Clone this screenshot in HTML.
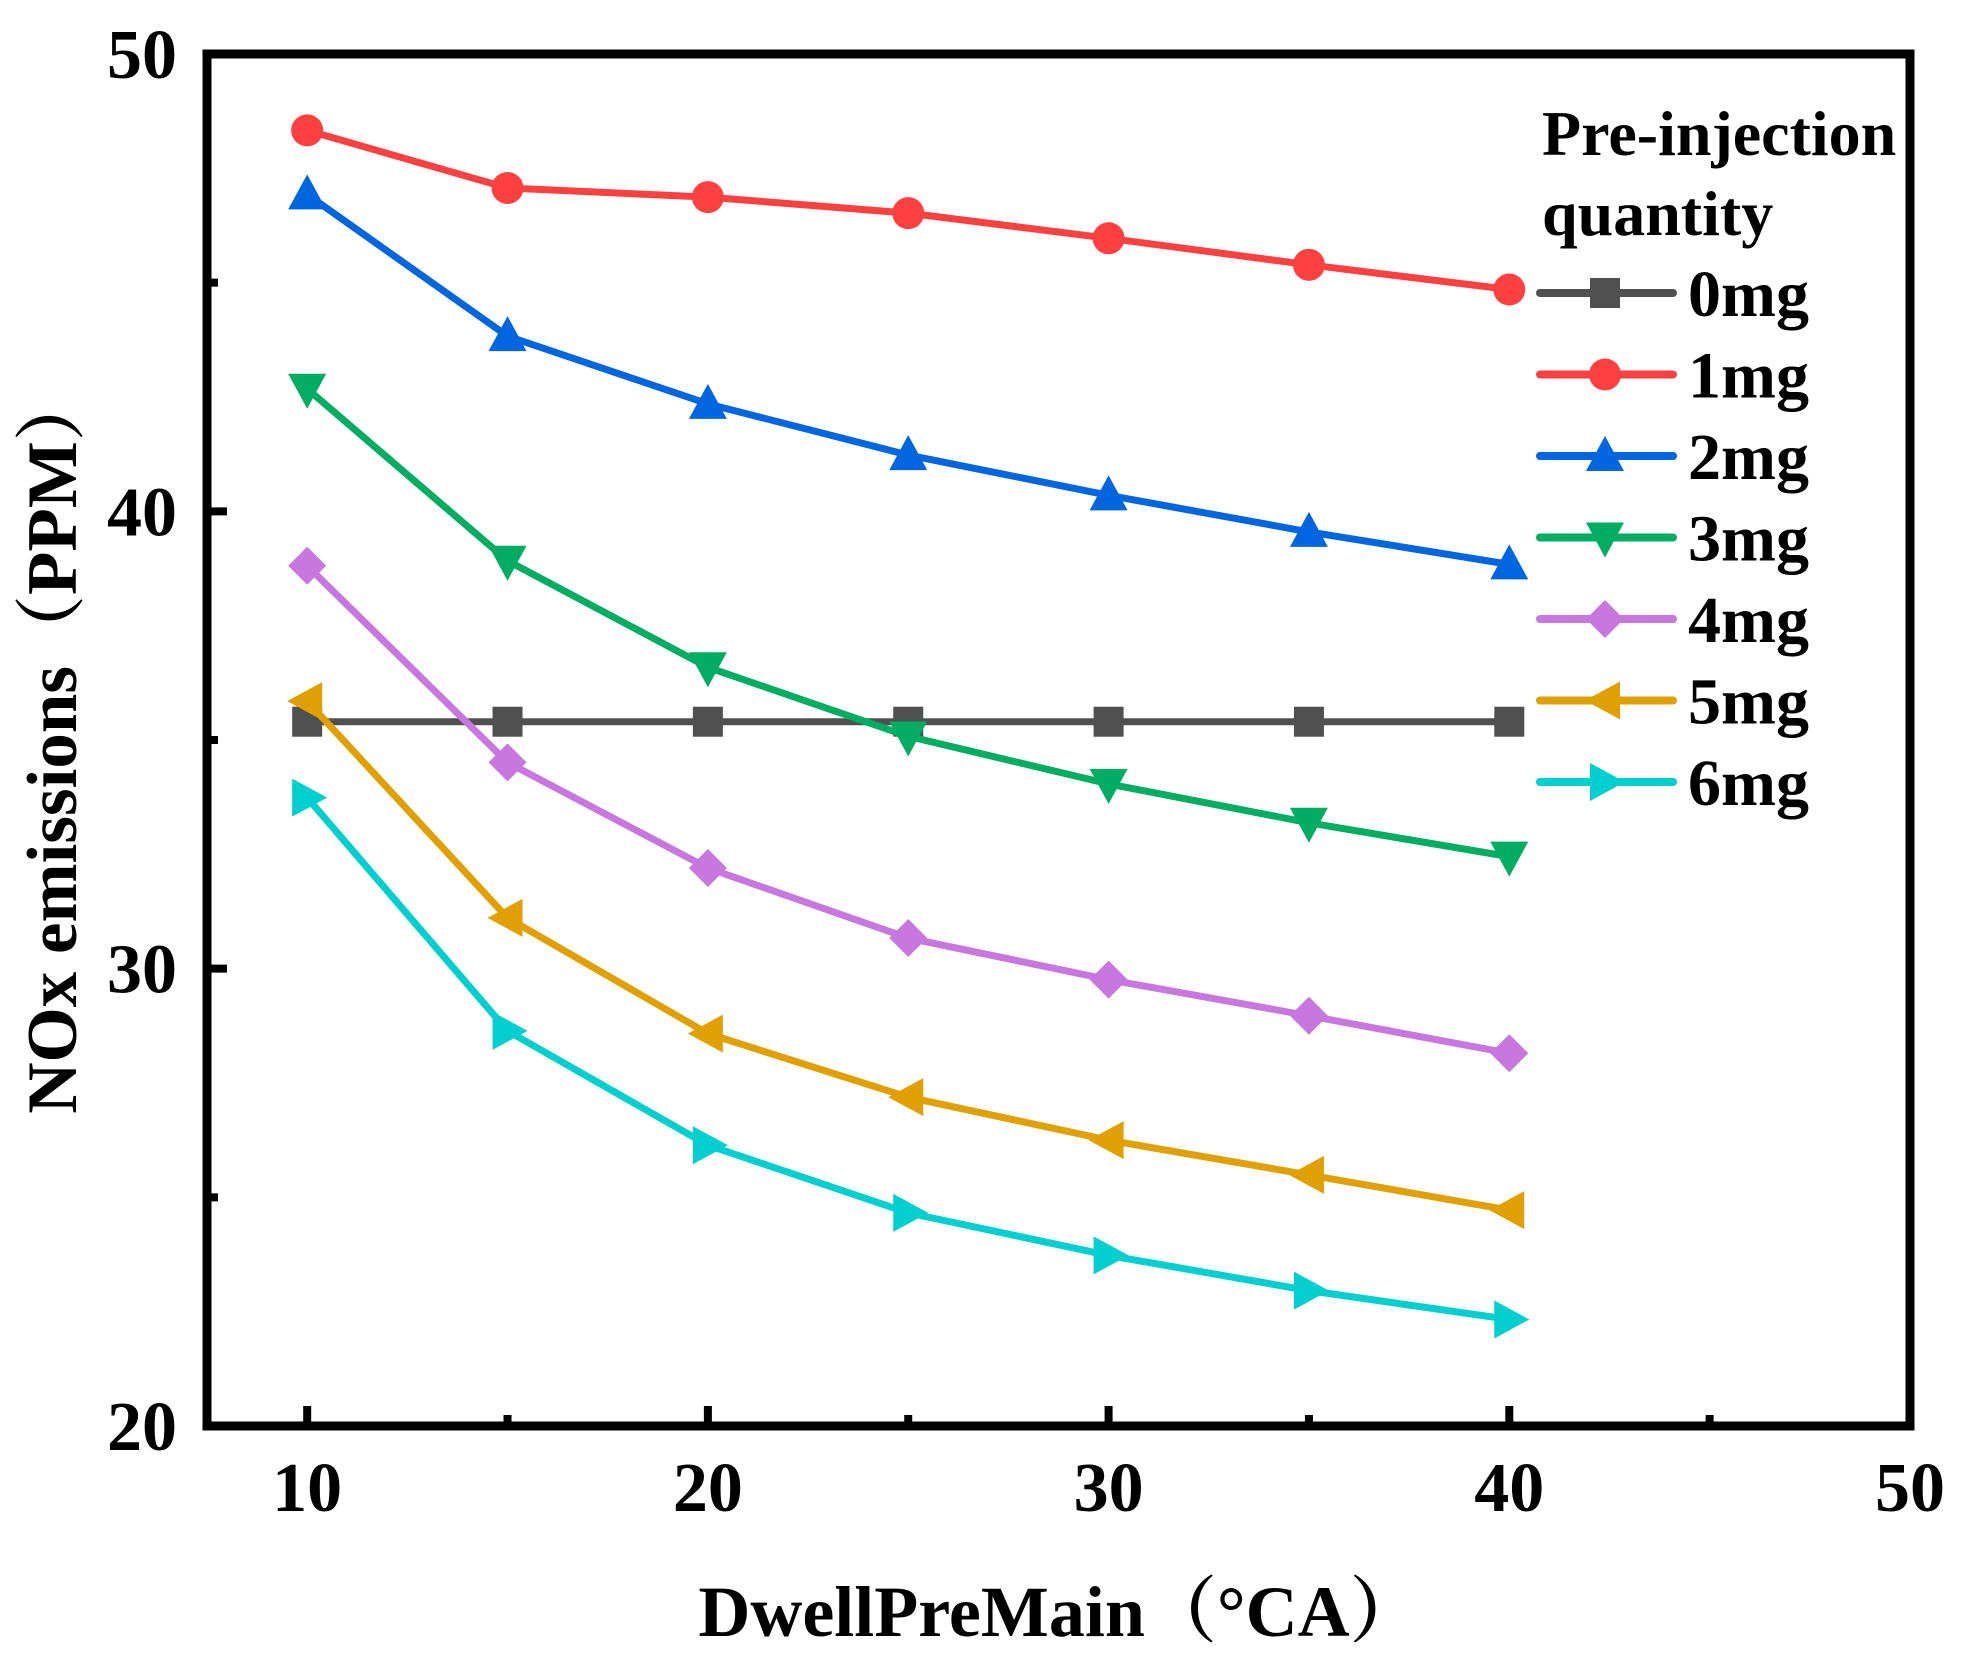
<!DOCTYPE html>
<html><head><meta charset="utf-8"><style>
body{margin:0;background:#fff}
svg text{font-family:"Liberation Serif","Noto Serif CJK SC",serif;font-weight:bold;fill:#000}
</style></head><body>
<svg id="chart" width="1963" height="1658" viewBox="0 0 1963 1658" xmlns="http://www.w3.org/2000/svg">
<g id="plot"></g>
<text x="1060" y="1636" font-size="72" text-anchor="middle">DwellPreMain（°CA）</text>
<text transform="translate(76,742) rotate(-90)" font-size="71" text-anchor="middle">NOx emissions（PPM）</text>
</svg>
<script>
const xs = [10,15,20,25,30,35,40];
const s0 = [35.4,35.4,35.4,35.4,35.4,35.4,35.4];
const s1 = [48.33,47.07,46.87,46.52,45.97,45.39,44.85];
const s2 = [46.93,43.83,42.35,41.23,40.35,39.55,38.84];
const s3 = [42.68,38.92,36.59,35.08,34.04,33.19,32.45];
const s4 = [38.81,34.51,32.20,30.67,29.76,28.97,28.15];
const s5 = [35.85,31.11,28.58,27.19,26.25,25.49,24.72];
const s6 = [33.74,28.64,26.14,24.66,23.73,22.96,22.33];
const seriesNames = ["0mg","1mg","2mg","3mg","4mg","5mg","6mg"];
const xTicks = [10,20,30,40,50];
const yTicks = [20,30,40,50];
const xMinor = [15,25,35,45];
const yMinor = [25,35,45];

const L=207,R=1910,T=54,B=1426, X0=7.5,X1=50,Y0=20,Y1=50;
const xS=v=>L+(v-X0)/(X1-X0)*(R-L);
const yS=v=>B-(v-Y0)/(Y1-Y0)*(B-T);
const NS="http://www.w3.org/2000/svg";
const svg=document.getElementById('chart');
const plot=document.getElementById('plot');
function mk(tag,attrs,parent){const e=document.createElementNS(NS,tag);for(const k in attrs)e.setAttribute(k,attrs[k]);(parent||plot).appendChild(e);return e;}
const colors=["#505050","#ff4040","#0066e0","#00ad62","#c777dd","#e0a000","#00cfcf"];
const shapes=["square","circle","up","down","diamond","left","right"];
const data=[s0,s1,s2,s3,s4,s5,s6];
function marker(shape,cx,cy,col,parent){
  const r=17;let e;
  if(shape==="square") e=mk('rect',{x:cx-15,y:cy-15,width:30,height:30,fill:col},parent);
  else if(shape==="circle") e=mk('circle',{cx:cx,cy:cy,r:16,fill:col},parent);
  else{let p;
    if(shape==="up") p=[[cx,cy-r-3],[cx+r+2,cy+r-2],[cx-r-2,cy+r-2]];
    if(shape==="down") p=[[cx,cy+r+3],[cx+r+2,cy-r+2],[cx-r-2,cy-r+2]];
    if(shape==="left") p=[[cx-r-3,cy],[cx+r-2,cy-r-2],[cx+r-2,cy+r+2]];
    if(shape==="right") p=[[cx+r+3,cy],[cx-r+2,cy-r-2],[cx-r+2,cy+r+2]];
    if(shape==="diamond") p=[[cx,cy-r-2],[cx+r+2,cy],[cx,cy+r+2],[cx-r-2,cy]];
    e=mk('polygon',{points:p.map(q=>q.join(',')).join(' '),fill:col},parent);}
  return e;
}
data.forEach((s,i)=>{
  const g=mk('g',{});
  
  
  const pl=mk('polyline',{points:xs.map((x,j)=>xS(x)+','+yS(s[j])).join(' '),fill:'none',stroke:colors[i],'stroke-width':7,'stroke-linejoin':'round'},g);
  
  
  xs.forEach((x,j)=>{const m=marker(shapes[i],xS(x),yS(s[j]),colors[i],g);
    
    });
});
const fr=mk('rect',{x:L,y:T,width:R-L,height:B-T,fill:'none',stroke:'#000','stroke-width':9});


xTicks.forEach(v=>{
  const t=mk('line',{x1:xS(v),x2:xS(v),y1:B,y2:B-20,stroke:'#000','stroke-width':8});
  
  
  const tx=mk('text',{x:xS(v),y:1511,'font-size':70,'text-anchor':'middle'},svg);
  tx.textContent=v;
  
  
});
xMinor.forEach(v=>{const t=mk('line',{x1:xS(v),x2:xS(v),y1:B,y2:B-11,stroke:'#000','stroke-width':8});
  
  });
yTicks.forEach(v=>{
  const t=mk('line',{x1:L,x2:L+20,y1:yS(v),y2:yS(v),stroke:'#000','stroke-width':8});
  
  
  const tx=mk('text',{x:177,y:yS(v)+24,'font-size':70,'text-anchor':'end'},svg);
  tx.textContent=v;
  
  
});
yMinor.forEach(v=>{const t=mk('line',{x1:L,x2:L+11,y1:yS(v),y2:yS(v),stroke:'#000','stroke-width':8});
  
  });
const lg=mk('g',{},svg);


const t1=mk('text',{x:1542,y:155,'font-size':64},lg);t1.textContent='Pre-injection';


const t2=mk('text',{x:1542,y:235,'font-size':64},lg);t2.textContent='quantity';


seriesNames.forEach((n,i)=>{
  const y=293+i*81.5;
  const e=mk('g',{},lg);
  
  
  mk('line',{x1:1540,x2:1673,y1:y,y2:y,stroke:colors[i],'stroke-width':8,'stroke-linecap':'round'},e);
  marker(shapes[i],1605,y,colors[i],e);
  const tx=mk('text',{x:1688,y:y+23,'font-size':66},e);tx.textContent=n;
});
</script>
</body></html>
